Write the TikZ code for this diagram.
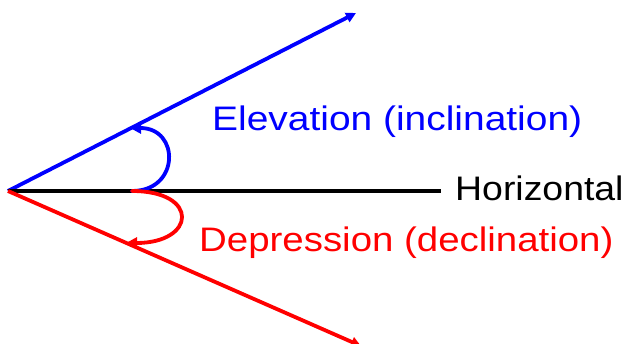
\documentclass[tikz,border=0pt]{standalone}
\usepackage{fontspec}
\setmainfont{Liberation Sans}
\usetikzlibrary{arrows.meta}
\definecolor{myblue}{RGB}{0,0,255}
\definecolor{myred}{RGB}{255,0,0}
\tikzset{
  ray/.style={line width=3.8pt,-{Triangle[length=10pt,width=10pt]}},
  arcarrow/.style={line width=3.8pt,line cap=round,-{Triangle[length=11pt,width=11pt]}},
  lab/.style={inner sep=0pt,anchor=base west,font=\fontsize{34}{40}\selectfont}
}
\newcommand{\wide}[2]{\scalebox{#1}[1]{#2}}
\begin{document}
\begin{tikzpicture}[x=1pt,y=-1pt]
\useasboundingbox (0,0) rectangle (628,344);
\coordinate (O) at (8,191);
\coordinate (B) at (356,13);
\coordinate (R) at (361,346);
\coordinate (H) at (441,191);
\coordinate (a1) at (132,191);
\coordinate (a2) at (130,128);
\coordinate (b2) at (126,243);
\draw[ray,myblue] (O) -- (B);
\draw[line width=3.8pt] (O) -- (H);
\draw[ray,myred] (O) -- (R);
\draw[arcarrow,myblue] (a1) .. controls (180,191) and (180,128) .. (a2);
\draw[arcarrow,myred] (a1) .. controls (200,191) and (196,243) .. (b2);
\node[lab,text=myblue] (elev) at (212,131) {\wide{1.145}{Elevation (inclination)}};
\node[lab] (hor) at (455,201) {\wide{1.10}{Horizontal}};
\node[lab,text=myred] (dep) at (199,252) {\wide{1.13}{Depression (declination)}};
\end{tikzpicture}
\end{document}
